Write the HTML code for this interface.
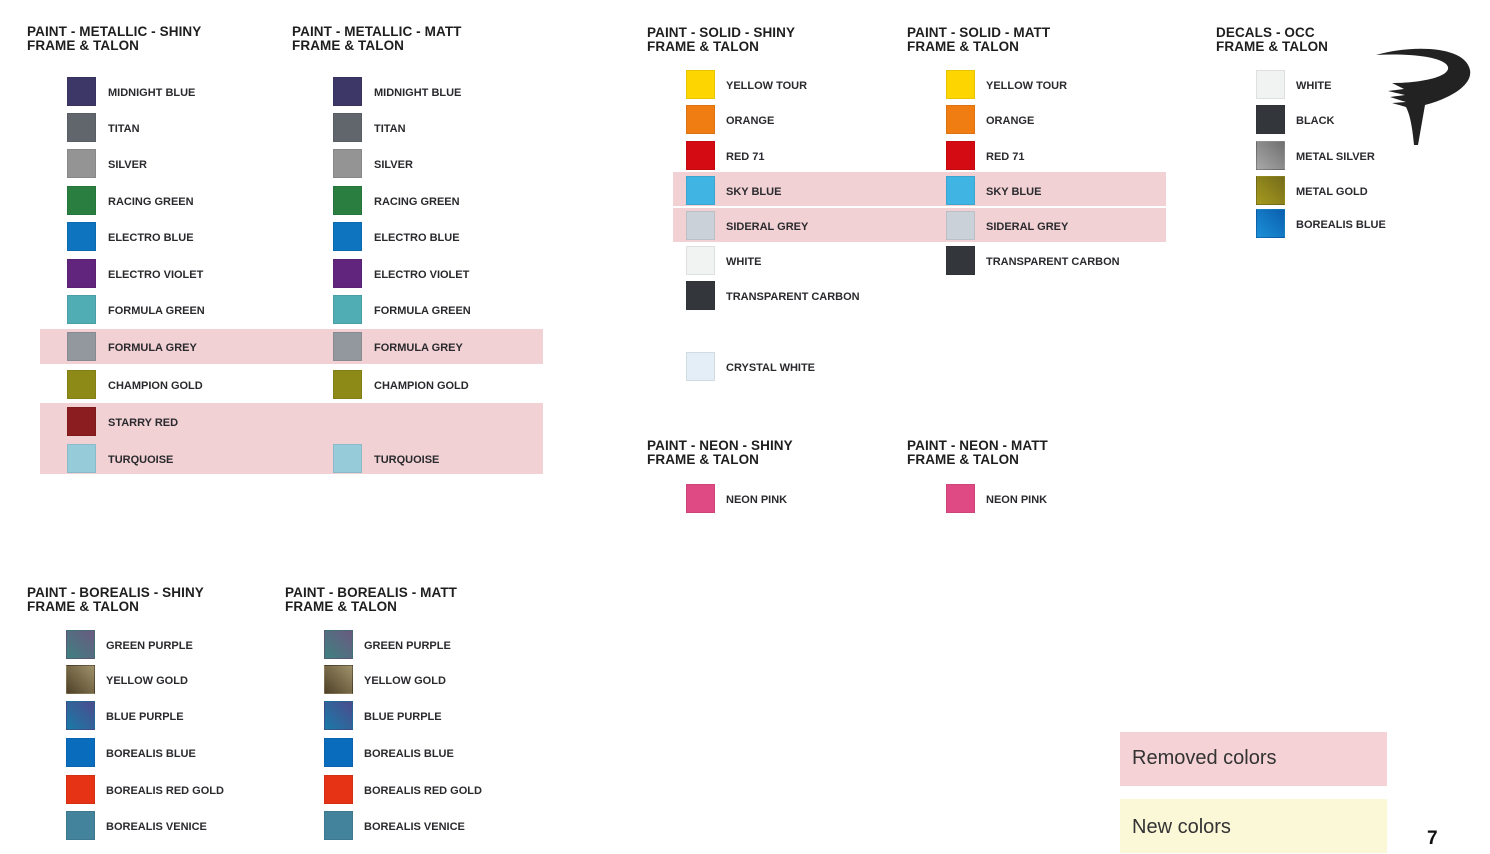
<!DOCTYPE html>
<html><head><meta charset="utf-8"><style>
body{margin:0;width:1490px;height:854px;background:#fff;position:relative;overflow:hidden;font-family:"Liberation Sans",sans-serif;color:#2a2a2e}
.h{position:absolute;font-weight:bold;font-size:13.5px;line-height:13.5px;letter-spacing:0.1px;color:#1e1e1e}
.s{position:absolute;width:29px;height:29px;box-sizing:border-box;border:1px solid rgba(0,0,0,0.08)}
.l{position:absolute;font-size:11px;line-height:14px;font-weight:600;letter-spacing:0;white-space:nowrap;top:1px}
.p{position:absolute;background:#f1d1d4}
</style></head><body>
<div class="p" style="left:40px;top:329px;width:503px;height:35px"></div>
<div class="p" style="left:40px;top:403px;width:503px;height:71px"></div>
<div class="p" style="left:673px;top:172px;width:493px;height:34px"></div>
<div class="p" style="left:673px;top:208px;width:493px;height:34px"></div>

<div class="h" style="left:27px;top:25px">PAINT - METALLIC - SHINY<br>FRAME &amp; TALON</div>
<div class="h" style="left:292px;top:25px">PAINT - METALLIC - MATT<br>FRAME &amp; TALON</div>
<div class="h" style="left:647px;top:26px">PAINT - SOLID - SHINY<br>FRAME &amp; TALON</div>
<div class="h" style="left:907px;top:26px">PAINT - SOLID - MATT<br>FRAME &amp; TALON</div>
<div class="h" style="left:1216px;top:26px">DECALS - OCC<br>FRAME &amp; TALON</div>
<div class="h" style="left:647px;top:439px">PAINT - NEON - SHINY<br>FRAME &amp; TALON</div>
<div class="h" style="left:907px;top:439px">PAINT - NEON - MATT<br>FRAME &amp; TALON</div>
<div class="h" style="left:27px;top:586px">PAINT - BOREALIS - SHINY<br>FRAME &amp; TALON</div>
<div class="h" style="left:285px;top:586px">PAINT - BOREALIS - MATT<br>FRAME &amp; TALON</div>

<!-- col1 -->
<div class="s" style="left:67px;top:77px;background:#3c3766"></div><div class="l" style="left:108px;top:86px">MIDNIGHT BLUE</div>
<div class="s" style="left:67px;top:113px;background:#61666d"></div><div class="l" style="left:108px;top:122px">TITAN</div>
<div class="s" style="left:67px;top:149px;background:#949494"></div><div class="l" style="left:108px;top:158px">SILVER</div>
<div class="s" style="left:67px;top:186px;background:#2a7f40"></div><div class="l" style="left:108px;top:195px">RACING GREEN</div>
<div class="s" style="left:67px;top:222px;background:#0e74bf"></div><div class="l" style="left:108px;top:231px">ELECTRO BLUE</div>
<div class="s" style="left:67px;top:259px;background:#62257d"></div><div class="l" style="left:108px;top:268px">ELECTRO VIOLET</div>
<div class="s" style="left:67px;top:295px;background:#4fadb3"></div><div class="l" style="left:108px;top:304px">FORMULA GREEN</div>
<div class="s" style="left:67px;top:332px;background:#93979e"></div><div class="l" style="left:108px;top:341px">FORMULA GREY</div>
<div class="s" style="left:67px;top:370px;background:#8e8a17"></div><div class="l" style="left:108px;top:379px">CHAMPION GOLD</div>
<div class="s" style="left:67px;top:407px;background:#8b1c1f"></div><div class="l" style="left:108px;top:416px">STARRY RED</div>
<div class="s" style="left:67px;top:444px;background:#96cbd9"></div><div class="l" style="left:108px;top:453px">TURQUOISE</div>
<!-- col2 -->
<div class="s" style="left:333px;top:77px;background:#3c3766"></div><div class="l" style="left:374px;top:86px">MIDNIGHT BLUE</div>
<div class="s" style="left:333px;top:113px;background:#61666d"></div><div class="l" style="left:374px;top:122px">TITAN</div>
<div class="s" style="left:333px;top:149px;background:#949494"></div><div class="l" style="left:374px;top:158px">SILVER</div>
<div class="s" style="left:333px;top:186px;background:#2a7f40"></div><div class="l" style="left:374px;top:195px">RACING GREEN</div>
<div class="s" style="left:333px;top:222px;background:#0e74bf"></div><div class="l" style="left:374px;top:231px">ELECTRO BLUE</div>
<div class="s" style="left:333px;top:259px;background:#62257d"></div><div class="l" style="left:374px;top:268px">ELECTRO VIOLET</div>
<div class="s" style="left:333px;top:295px;background:#4fadb3"></div><div class="l" style="left:374px;top:304px">FORMULA GREEN</div>
<div class="s" style="left:333px;top:332px;background:#93979e"></div><div class="l" style="left:374px;top:341px">FORMULA GREY</div>
<div class="s" style="left:333px;top:370px;background:#8e8a17"></div><div class="l" style="left:374px;top:379px">CHAMPION GOLD</div>
<div class="s" style="left:333px;top:444px;background:#96cbd9"></div><div class="l" style="left:374px;top:453px">TURQUOISE</div>
<!-- col3 -->
<div class="s" style="left:686px;top:70px;background:#fdd500"></div><div class="l" style="left:726px;top:79px">YELLOW TOUR</div>
<div class="s" style="left:686px;top:105px;background:#ef7d12"></div><div class="l" style="left:726px;top:114px">ORANGE</div>
<div class="s" style="left:686px;top:141px;background:#d40b12"></div><div class="l" style="left:726px;top:150px">RED 71</div>
<div class="s" style="left:686px;top:176px;background:#40b4e2"></div><div class="l" style="left:726px;top:185px">SKY BLUE</div>
<div class="s" style="left:686px;top:211px;background:#cbd1d8"></div><div class="l" style="left:726px;top:220px">SIDERAL GREY</div>
<div class="s" style="left:686px;top:246px;background:#f1f3f3"></div><div class="l" style="left:726px;top:255px">WHITE</div>
<div class="s" style="left:686px;top:281px;background:#33373b"></div><div class="l" style="left:726px;top:290px">TRANSPARENT CARBON</div>
<div class="s" style="left:686px;top:352px;background:#e3eef6"></div><div class="l" style="left:726px;top:361px">CRYSTAL WHITE</div>
<!-- col4 -->
<div class="s" style="left:946px;top:70px;background:#fdd500"></div><div class="l" style="left:986px;top:79px">YELLOW TOUR</div>
<div class="s" style="left:946px;top:105px;background:#ef7d12"></div><div class="l" style="left:986px;top:114px">ORANGE</div>
<div class="s" style="left:946px;top:141px;background:#d40b12"></div><div class="l" style="left:986px;top:150px">RED 71</div>
<div class="s" style="left:946px;top:176px;background:#40b4e2"></div><div class="l" style="left:986px;top:185px">SKY BLUE</div>
<div class="s" style="left:946px;top:211px;background:#cbd1d8"></div><div class="l" style="left:986px;top:220px">SIDERAL GREY</div>
<div class="s" style="left:946px;top:246px;background:#33373b"></div><div class="l" style="left:986px;top:255px">TRANSPARENT CARBON</div>
<!-- col5 -->
<div class="s" style="left:1256px;top:70px;background:#f1f3f3"></div><div class="l" style="left:1296px;top:79px">WHITE</div>
<div class="s" style="left:1256px;top:105px;background:#33373b"></div><div class="l" style="left:1296px;top:114px">BLACK</div>
<div class="s" style="left:1256px;top:141px;background:linear-gradient(45deg,#a8a8a8,#707070)"></div><div class="l" style="left:1296px;top:150px">METAL SILVER</div>
<div class="s" style="left:1256px;top:176px;background:linear-gradient(45deg,#a59a1d,#756c1c)"></div><div class="l" style="left:1296px;top:185px">METAL GOLD</div>
<div class="s" style="left:1256px;top:209px;background:linear-gradient(45deg,#1c90d8,#0a5fae)"></div><div class="l" style="left:1296px;top:218px">BOREALIS BLUE</div>
<!-- neon -->
<div class="s" style="left:686px;top:484px;background:#e04a84"></div><div class="l" style="left:726px;top:493px">NEON PINK</div>
<div class="s" style="left:946px;top:484px;background:#e04a84"></div><div class="l" style="left:986px;top:493px">NEON PINK</div>
<!-- borealis -->
<div class="s" style="left:66px;top:630px;background:linear-gradient(45deg,#3f8080,#6a5a80)"></div><div class="l" style="left:106px;top:639px">GREEN PURPLE</div>
<div class="s" style="left:66px;top:665px;background:linear-gradient(45deg,#4f4128,#a0926a)"></div><div class="l" style="left:106px;top:674px">YELLOW GOLD</div>
<div class="s" style="left:66px;top:701px;background:linear-gradient(45deg,#1a7aa8,#4c4c8c)"></div><div class="l" style="left:106px;top:710px">BLUE PURPLE</div>
<div class="s" style="left:66px;top:738px;background:#0a6cbd"></div><div class="l" style="left:106px;top:747px">BOREALIS BLUE</div>
<div class="s" style="left:66px;top:775px;background:#e63215"></div><div class="l" style="left:106px;top:784px">BOREALIS RED GOLD</div>
<div class="s" style="left:66px;top:811px;background:#43839b"></div><div class="l" style="left:106px;top:820px">BOREALIS VENICE</div>
<div class="s" style="left:324px;top:630px;background:linear-gradient(45deg,#3f8080,#6a5a80)"></div><div class="l" style="left:364px;top:639px">GREEN PURPLE</div>
<div class="s" style="left:324px;top:665px;background:linear-gradient(45deg,#4f4128,#a0926a)"></div><div class="l" style="left:364px;top:674px">YELLOW GOLD</div>
<div class="s" style="left:324px;top:701px;background:linear-gradient(45deg,#1a7aa8,#4c4c8c)"></div><div class="l" style="left:364px;top:710px">BLUE PURPLE</div>
<div class="s" style="left:324px;top:738px;background:#0a6cbd"></div><div class="l" style="left:364px;top:747px">BOREALIS BLUE</div>
<div class="s" style="left:324px;top:775px;background:#e63215"></div><div class="l" style="left:364px;top:784px">BOREALIS RED GOLD</div>
<div class="s" style="left:324px;top:811px;background:#43839b"></div><div class="l" style="left:364px;top:820px">BOREALIS VENICE</div>

<!-- logo -->
<svg style="position:absolute;left:1370px;top:45px" width="105" height="105" viewBox="0 0 105 105">
<path d="M6 10 C40 0 95 0 100 25 C103 42 75 55 55 60 L48 100 L44 100 C42 80 40 70 36 62 L22 58 L36 57 L20 52 L35 50 L18 46 L34 44 L22 38 C50 38 80 32 78 22 C75 12 40 8 6 10 Z" fill="#222"/>
</svg>

<div class="p" style="left:1120px;top:732px;width:267px;height:54px;background:#f4d2d5"></div>
<div style="position:absolute;left:1132px;top:747px;font-size:20px;color:#333">Removed colors</div>
<div style="position:absolute;left:1120px;top:799px;width:267px;height:54px;background:#fbf8d8"></div>
<div style="position:absolute;left:1132px;top:816px;font-size:20px;color:#333">New colors</div>
<div style="position:absolute;left:1427px;top:828px;font-size:19px;font-weight:bold;color:#111">7</div>
</body></html>
